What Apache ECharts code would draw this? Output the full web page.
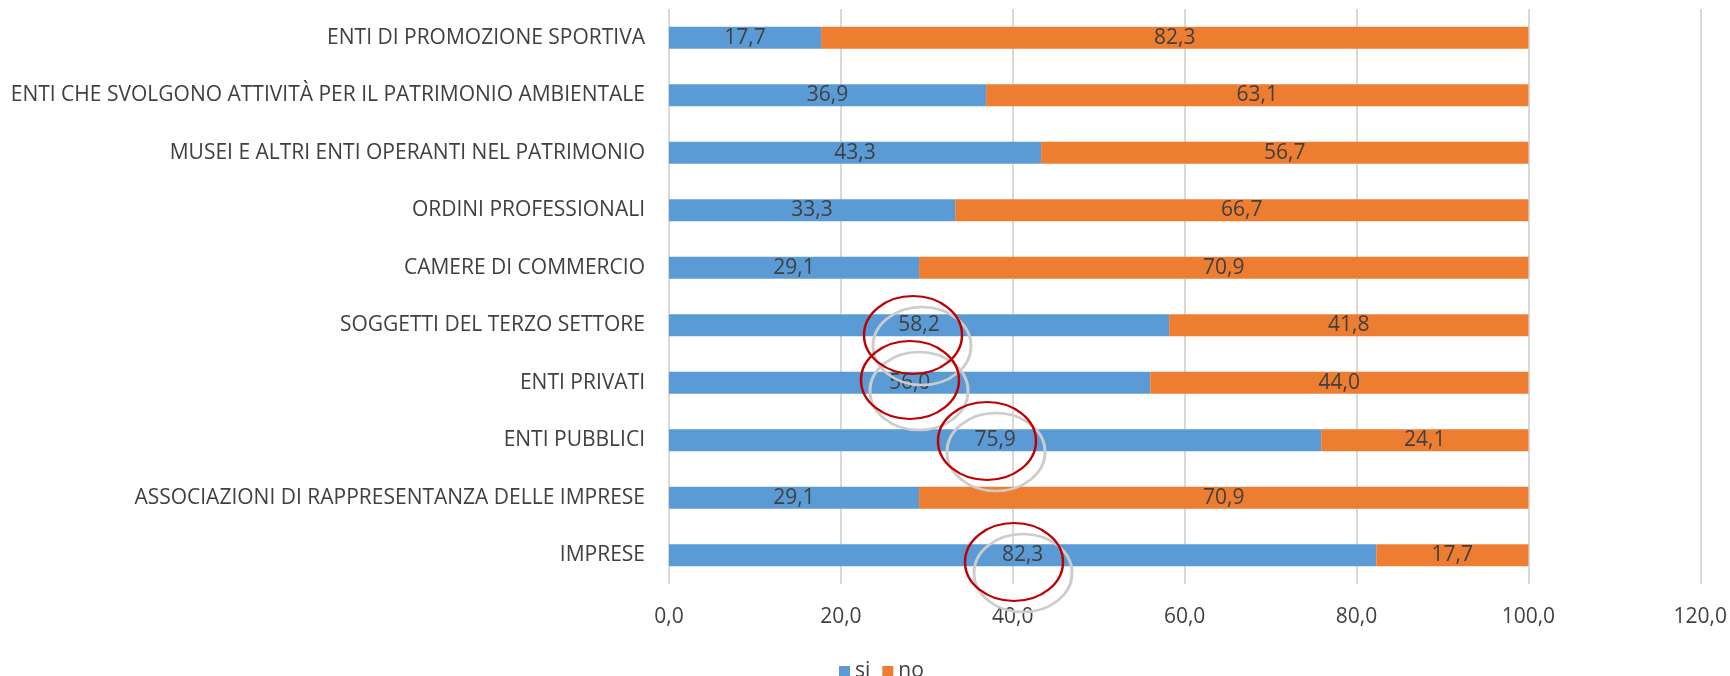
<!DOCTYPE html>
<html>
<head>
<meta charset="utf-8">
<script src="https://cdn.jsdelivr.net/npm/echarts@6/dist/echarts.min.js"></script>
<style>
  html, body { margin: 0; padding: 0; background: #fff; }
  #chart { width: 1730px; height: 676px; }
</style>
</head>
<body>
<div id="chart"></div>
<script>
// categories, top to bottom
const categories = [
  'ENTI DI PROMOZIONE SPORTIVA',
  'ENTI CHE SVOLGONO ATTIVITÀ PER IL PATRIMONIO AMBIENTALE',
  'MUSEI E ALTRI ENTI OPERANTI NEL PATRIMONIO',
  'ORDINI PROFESSIONALI',
  'CAMERE DI COMMERCIO',
  'SOGGETTI DEL TERZO SETTORE',
  'ENTI PRIVATI',
  'ENTI PUBBLICI',
  'ASSOCIAZIONI DI RAPPRESENTANZA DELLE IMPRESE',
  'IMPRESE'
]
const siValues = [17.7, 36.9, 43.3, 33.3, 29.1, 58.2, 56.0, 75.9, 29.1, 82.3]
const noValues = [82.3, 63.1, 56.7, 66.7, 70.9, 41.8, 44.0, 24.1, 70.9, 17.7]
const xTicks = [0, 20, 40, 60, 80, 100, 120]

const fontFamily = "'Open Sans', sans-serif"
const textColor = '#404040'
const fmt = (v) => Number(v).toFixed(1).replace('.', ',')

// hand-drawn annotation ellipses (red outline + gray offset copy)
const ellipses = [
  { cx: 913, cy: 335 },
  { cx: 910, cy: 380 },
  { cx: 987, cy: 441 },
  { cx: 1014, cy: 562 }
]
const ellipseGraphics = []
ellipses.forEach((e) => {
  ellipseGraphics.push({
    type: 'circle', x: e.cx + 9, y: e.cy + 11, scaleY: 39 / 49, z: 100,
    shape: { cx: 0, cy: 0, r: 49 },
    style: { fill: 'none', stroke: '#cccccc', lineWidth: 3, strokeNoScale: true }
  })
  ellipseGraphics.push({
    type: 'circle', x: e.cx, y: e.cy, scaleY: 39 / 49, z: 101,
    shape: { cx: 0, cy: 0, r: 49 },
    style: { fill: 'none', stroke: '#c00000', lineWidth: 2.5, strokeNoScale: true }
  })
})

const chart = echarts.init(document.getElementById('chart'))
chart.setOption({
  animation: false,
  textStyle: { fontFamily: fontFamily },
  grid: { left: 669, right: 29, top: 9, bottom: 92, containLabel: false },
  legend: {
    data: ['si', 'no'],
    left: 834,
    top: 656,
    itemWidth: 11,
    itemHeight: 11,
    itemGap: 12,
    icon: 'rect',
    textStyle: { color: textColor, fontSize: 21, fontFamily: fontFamily }
  },
  xAxis: {
    type: 'value',
    min: xTicks[0],
    max: xTicks[xTicks.length - 1],
    interval: 20,
    axisLine: { show: false },
    axisTick: { show: false },
    splitLine: { show: true, lineStyle: { color: '#d9d9d9', width: 2 } },
    axisLabel: { color: textColor, fontSize: 21, margin: 23, formatter: fmt }
  },
  yAxis: {
    type: 'category',
    inverse: true,
    data: categories,
    axisLine: { show: false },
    axisTick: { show: false },
    axisLabel: { color: textColor, fontSize: 21, margin: 24 }
  },
  series: [
    {
      name: 'si',
      type: 'bar',
      stack: 'tot',
      barWidth: 22,
      data: siValues,
      itemStyle: { color: '#5b9bd5' },
      label: { show: true, position: 'inside', color: textColor, fontSize: 21, formatter: (p) => fmt(p.value) }
    },
    {
      name: 'no',
      type: 'bar',
      stack: 'tot',
      barWidth: 22,
      data: noValues,
      itemStyle: { color: '#ed7d31' },
      label: { show: true, position: 'inside', color: textColor, fontSize: 21, formatter: (p) => fmt(p.value) }
    }
  ],
  graphic: ellipseGraphics
})
</script>
</body>
</html>
